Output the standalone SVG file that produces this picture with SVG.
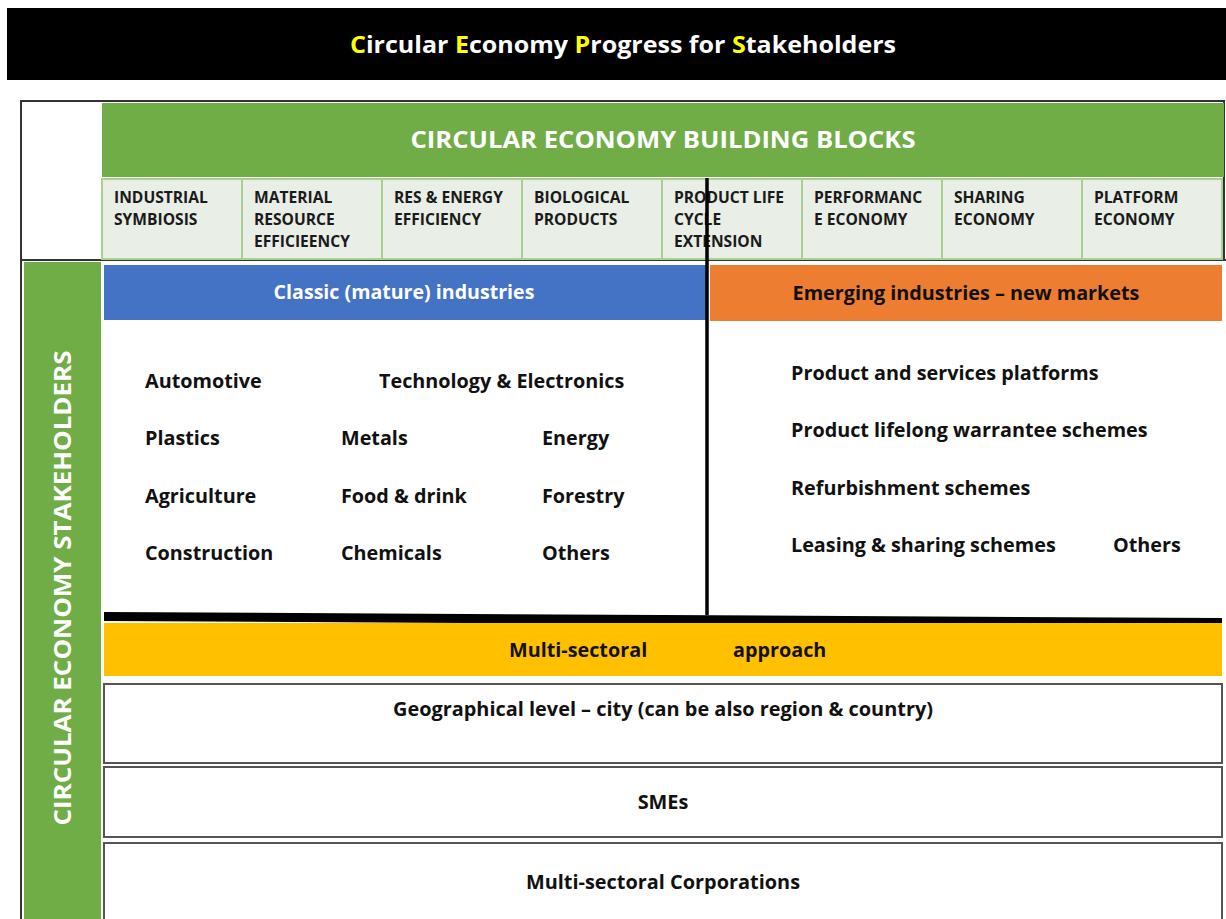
<svg xmlns="http://www.w3.org/2000/svg" width="1226" height="919" viewBox="0 0 1226 919">
<style>
text{font-family:"Open Sans","Noto Sans","Liberation Sans",sans-serif;font-weight:700}
.cell{fill:#E9EEE6;stroke:#A9D18E;stroke-width:2}
.ct{font-size:15.6px;fill:#1a1a1a}
.it{font-size:19.8px;fill:#111}
.box{fill:#fff;stroke:#555;stroke-width:2}
.bt{font-size:19.9px;fill:#111;text-anchor:middle}
</style>
<rect width="1226" height="919" fill="#fff"/>
<g id="title">
<rect x="7" y="8" width="1219" height="72" fill="#000"/>
<text x="623" y="53" text-anchor="middle" font-size="24" fill="#fff" font-weight="600" textLength="546" lengthAdjust="spacingAndGlyphs"><tspan fill="#FFFF00">C</tspan>ircular <tspan fill="#FFFF00">E</tspan>conomy <tspan fill="#FFFF00">P</tspan>rogress for <tspan fill="#FFFF00">S</tspan>takeholders</text>
</g>
<g id="frame" fill="none" stroke="#333" stroke-width="2">
<path d="M20 101 H1224 V260"/>
<path d="M21 101 V919"/>
<path d="M20 260 H1226"/>
</g>
<g id="building-blocks-header">
<rect x="102" y="103" width="1122" height="74" fill="#70AD47"/>
<text x="663" y="148" text-anchor="middle" font-size="24" fill="#fff" textLength="505" lengthAdjust="spacingAndGlyphs">CIRCULAR ECONOMY BUILDING BLOCKS</text>
</g>
<g id="block-industrial-symbiosis"><rect class="cell" x="102" y="179" width="140" height="80"/><text class="ct" x="114" y="203">INDUSTRIAL<tspan x="114" dy="22">SYMBIOSIS</tspan></text></g>
<g id="block-material-resource"><rect class="cell" x="242" y="179" width="140" height="80"/><text class="ct" x="254" y="203">MATERIAL<tspan x="254" dy="22">RESOURCE</tspan><tspan x="254" dy="22">EFFICIEENCY</tspan></text></g>
<g id="block-res-energy"><rect class="cell" x="382" y="179" width="140" height="80"/><text class="ct" x="394" y="203">RES &amp; ENERGY<tspan x="394" dy="22">EFFICIENCY</tspan></text></g>
<g id="block-biological"><rect class="cell" x="522" y="179" width="140" height="80"/><text class="ct" x="534" y="203">BIOLOGICAL<tspan x="534" dy="22">PRODUCTS</tspan></text></g>
<g id="block-product-life"><rect class="cell" x="662" y="179" width="140" height="80"/><text class="ct" x="674" y="203">PRODUCT LIFE<tspan x="674" dy="22">CYCLE</tspan><tspan x="674" dy="22">EXTENSION</tspan></text></g>
<g id="block-performance"><rect class="cell" x="802" y="179" width="140" height="80"/><text class="ct" x="814" y="203">PERFORMANC<tspan x="814" dy="22">E ECONOMY</tspan></text></g>
<g id="block-sharing"><rect class="cell" x="942" y="179" width="140" height="80"/><text class="ct" x="954" y="203">SHARING<tspan x="954" dy="22">ECONOMY</tspan></text></g>
<g id="block-platform"><rect class="cell" x="1082" y="179" width="140" height="80"/><text class="ct" x="1094" y="203">PLATFORM<tspan x="1094" dy="22">ECONOMY</tspan></text></g>
<g id="stakeholders-bar">
<rect x="24" y="262" width="77" height="657" fill="#70AD47"/>
<text transform="translate(71 588) rotate(-90)" text-anchor="middle" font-size="24" fill="#fff" textLength="475" lengthAdjust="spacingAndGlyphs">CIRCULAR ECONOMY STAKEHOLDERS</text>
</g>
<g id="classic-industries">
<rect x="104" y="265" width="602" height="55" fill="#4472C4"/>
<text x="404" y="299" text-anchor="middle" font-size="19.6" fill="#fff">Classic (mature) industries</text>
<text class="it" x="145" y="388">Automotive</text>
<text class="it" x="379" y="388">Technology &amp; Electronics</text>
<text class="it" x="145" y="445">Plastics</text>
<text class="it" x="341" y="445">Metals</text>
<text class="it" x="542" y="445">Energy</text>
<text class="it" x="145" y="503">Agriculture</text>
<text class="it" x="341" y="503">Food &amp; drink</text>
<text class="it" x="542" y="503">Forestry</text>
<text class="it" x="145" y="560">Construction</text>
<text class="it" x="341" y="560">Chemicals</text>
<text class="it" x="542" y="560">Others</text>
</g>
<g id="emerging-industries">
<rect x="710" y="265" width="512" height="56" fill="#ED7D31"/>
<text x="966" y="300" text-anchor="middle" font-size="19.8" fill="#111">Emerging industries – new markets</text>
<text class="it" x="791" y="380">Product and services platforms</text>
<text class="it" x="791" y="437">Product lifelong warrantee schemes</text>
<text class="it" x="791" y="495">Refurbishment schemes</text>
<text class="it" x="791" y="552">Leasing &amp; sharing schemes</text>
<text class="it" x="1113" y="552">Others</text>
</g>
<g id="connectors">
<line x1="707" y1="178" x2="707" y2="615" stroke="#000" stroke-width="3.5"/>
<polygon points="104,612 1222,618 1222,627 104,621" fill="#000"/>
</g>
<g id="multi-sectoral">
<rect x="104" y="623" width="1118" height="53" fill="#FFC000"/>
<text class="it" x="509" y="657">Multi-sectoral</text>
<text class="it" x="733" y="657">approach</text>
</g>
<g id="geographical"><rect class="box" x="104" y="684" width="1118" height="79"/><text class="bt" x="663" y="716">Geographical level – city (can be also region &amp; country)</text></g>
<g id="smes"><rect class="box" x="104" y="767" width="1118" height="70"/><text class="bt" x="663" y="809">SMEs</text></g>
<g id="corporations"><rect class="box" x="104" y="843" width="1118" height="80"/><text class="bt" x="663" y="889">Multi-sectoral Corporations</text></g>
</svg>
